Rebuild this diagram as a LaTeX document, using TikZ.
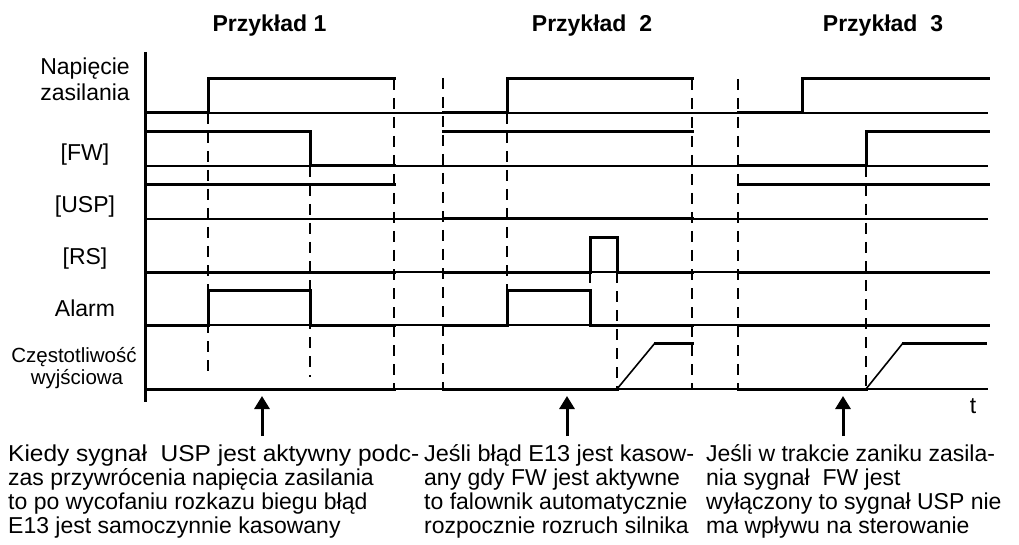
\documentclass[tikz,border=0pt]{standalone}
\usepackage{fontspec}
\setmainfont{Liberation Sans}
\newfontfamily\widefont[FakeStretch=1.065]{Liberation Sans}
\newfontfamily\midfont[FakeStretch=1.02]{Liberation Sans}
\usetikzlibrary{arrows.meta}
\tikzset{
  axisline/.style={line width=3pt},
  baseline/.style={line width=2pt},
  sig/.style={line width=3pt, line join=miter, line cap=rect},
  ramp/.style={line width=1.6pt},
  dsh/.style={line width=2.2pt, dash pattern=on 11pt off 8pt},
  uparrow/.style={line width=3pt, -{Triangle[width=15pt,length=13pt]}},
  lbl/.style={inner sep=0pt, anchor=base, font=\fontsize{23}{24}\selectfont},
  smlbl/.style={inner sep=0pt, anchor=base, font=\fontsize{20.5}{21}\selectfont},
  ttl/.style={inner sep=0pt, anchor=base, font=\fontsize{23}{24}\selectfont\bfseries},
  body/.style={inner sep=0pt, anchor=north west, align=left, font=\fontsize{23}{24}\selectfont}
}
\begin{document}
\begin{tikzpicture}[x=1pt,y=-1pt]
\useasboundingbox (0,0) rectangle (1019,545);
% titles
\node[ttl] (t1) at (269.5,31.7) {Przykład 1};
\node[ttl] (t2) at (592,31.7) {Przykład~~2};
\node[ttl] (t3) at (883,31.7) {Przykład~~3};
% labels
\node[lbl] (lN1) at (85,75) {Napięcie};
\node[lbl] (lN2) at (85,101) {zasilania};
\node[lbl] (lF) at (85,161) {[FW]};
\node[lbl] (lU) at (85,213) {[USP]};
\node[lbl] (lR) at (85,265) {[RS]};
\node[lbl] (lA) at (85,316) {Alarm};
\node[smlbl] (lQ1) at (74,362) {Częstotliwość};
\node[smlbl] (lQ2) at (77,384) {wyjściowa};
\node[lbl] (lt) at (973,413) {t};
% axis
\draw[axisline] (145,52) -- (145,402);
% thin baselines
\foreach \yy in {113,166,219,272,325,389} \draw[baseline] (145,\yy) -- (988,\yy);
% dashed verticals
\draw[dsh] (208,113) -- (208,377);
\draw[dsh] (310,166) -- (310,377);
\draw[dsh] (394,79) -- (394,389);
\draw[dsh] (443,78) -- (443,389);
\draw[dsh] (507,113) -- (507,290);
\draw[dsh] (590,272) -- (590,290);
\draw[dsh] (617,272) -- (617,389);
\draw[dsh] (692,79) -- (692,389);
\draw[dsh] (738,79) -- (738,389);
\draw[dsh] (866,166) -- (866,389);
% Napiecie
\draw[sig] (145,113) -- (208,113) -- (208,79) -- (394,79);
\draw[sig] (443,113) -- (507,113) -- (507,79) -- (692,79);
\draw[sig] (738,113) -- (802,113) -- (802,79) -- (988,79);
% FW
\draw[sig] (145,132) -- (310,132) -- (310,166) -- (394,166);
\draw[sig] (443,132) -- (692,132);
\draw[sig] (738,166) -- (866,166) -- (866,132) -- (988,132);
% USP
\draw[sig] (145,185) -- (394,185);
\draw[sig] (443,219) -- (692,219);
\draw[sig] (738,185) -- (988,185);
% RS
\draw[sig] (145,272) -- (394,272);
\draw[sig] (443,272) -- (590,272) -- (590,238) -- (617,238) -- (617,272) -- (692,272);
\draw[sig] (738,272) -- (988,272);
% Alarm
\draw[sig] (145,325) -- (208,325) -- (208,290) -- (310,290) -- (310,325) -- (394,325);
\draw[sig] (443,325) -- (507,325) -- (507,290) -- (590,290) -- (590,325) -- (692,325);
\draw[sig] (738,325) -- (988,325);
% Frequency
\draw[sig] (145,389) -- (394,389);
\draw[sig] (443,389) -- (617,389);
\draw[ramp] (617,389) -- (655,343);
\draw[sig] (655,343) -- (692,343);
\draw[sig] (738,389) -- (866,389);
\draw[ramp] (866,389) -- (903,343);
\draw[sig] (903,343) -- (985,343);
% arrows
\coordinate (a1b) at (262,436); \coordinate (a1t) at (262,396);
\coordinate (a2b) at (567,436); \coordinate (a2t) at (567,396);
\coordinate (a3b) at (843,436); \coordinate (a3t) at (843,396);
\draw[uparrow] (a1b) -- (a1t);
\draw[uparrow] (a2b) -- (a2t);
\draw[uparrow] (a3b) -- (a3t);
% body texts
\node[body] (c1) at (8,444) {\widefont\rule{0pt}{17pt}Kiedy sygnał~~USP jest aktywny podc-\\zas przywrócenia napięcia zasilania\\to po wycofaniu rozkazu biegu błąd\\E13 jest samoczynnie kasowany};
\node[body] (c2) at (424,444) {\midfont\rule{0pt}{17pt}Jeśli błąd E13 jest kasow-\\any gdy FW jest aktywne\\to falownik automatycznie\\rozpocznie rozruch silnika};
\node[body] (c3) at (706,444) {\rule{0pt}{17pt}Jeśli w trakcie zaniku zasila-\\nia sygnał~~FW jest\\wyłączony to sygnał USP nie\\ma wpływu na sterowanie};
\end{tikzpicture}
\end{document}
